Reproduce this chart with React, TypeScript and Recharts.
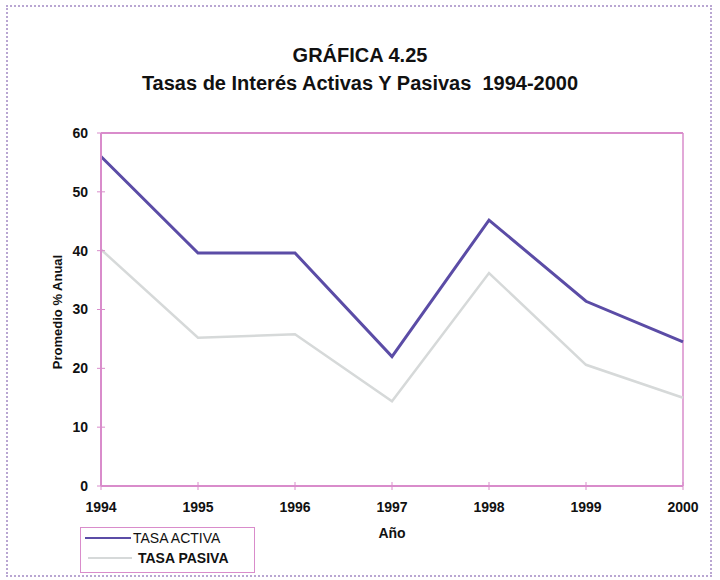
import React from 'react';
import { LineChart, Line, XAxis, YAxis, ReferenceLine, Legend } from 'recharts';

const years = ['1994', '1995', '1996', '1997', '1998', '1999', '2000'];
const tasaActiva = [56, 39.6, 39.6, 22, 45.2, 31.4, 24.5];
const tasaPasiva = [40.2, 25.2, 25.8, 14.4, 36.2, 20.6, 15];
const yTicks = [0, 10, 20, 30, 40, 50, 60];

const data = years.map((y, i) => ({ year: y, activa: tasaActiva[i], pasiva: tasaPasiva[i] }));

const FONT = '"Liberation Sans", Arial, sans-serif';
const PINK = '#d98ccb';
const ACTIVA = '#5b4ca6';
const PASIVA = '#d6d9d9';

const LegendBox = () => (
  <div
    style={{
      width: 175,
      height: 46,
      boxSizing: 'border-box',
      border: `1.5px solid ${PINK}`,
      fontFamily: FONT,
      fontSize: 14,
      color: '#111',
      position: 'relative',
      background: '#fff',
    }}
  >
    <div style={{ position: 'absolute', left: 4, top: 9, width: 46, height: 2, background: ACTIVA }} />
    <div style={{ position: 'absolute', left: 52, top: 1, lineHeight: '18px' }}>TASA ACTIVA</div>
    <div style={{ position: 'absolute', left: 7, top: 29, width: 44, height: 2, background: PASIVA }} />
    <div style={{ position: 'absolute', left: 57, top: 21, lineHeight: '18px', fontWeight: 'bold' }}>TASA PASIVA</div>
  </div>
);

export default function App() {
  return (
    <div style={{ position: 'absolute', left: 0, top: 0, width: 720, height: 580, background: '#fff', overflow: 'hidden' }}>
      <div
        style={{
          position: 'absolute',
          left: 6,
          top: 5,
          width: 706,
          height: 572,
          boxSizing: 'border-box',
          border: '2px dotted #b9a6d2',
        }}
      />
      <div
        style={{
          position: 'absolute',
          left: 0,
          width: 720,
          top: 42,
          textAlign: 'center',
          fontFamily: FONT,
          fontWeight: 'bold',
          fontSize: 20,
          lineHeight: '26px',
          color: '#111',
        }}
      >
        GRÁFICA 4.25
      </div>
      <div
        style={{
          position: 'absolute',
          left: 0,
          width: 720,
          top: 70,
          textAlign: 'center',
          fontFamily: FONT,
          fontWeight: 'bold',
          fontSize: 20,
          lineHeight: '26px',
          color: '#111',
          whiteSpace: 'pre',
        }}
      >
        {'Tasas de Interés Activas Y Pasivas  1994-2000'}
      </div>
      <div
        style={{
          position: 'absolute',
          left: 57,
          top: 312,
          transform: 'translate(-50%, -50%) rotate(-90deg)',
          fontFamily: FONT,
          fontWeight: 'bold',
          fontSize: 13,
          whiteSpace: 'nowrap',
          color: '#111',
        }}
      >
        Promedio % Anual
      </div>
      <div
        style={{
          position: 'absolute',
          left: 392,
          top: 533,
          transform: 'translate(-50%, -50%)',
          fontFamily: FONT,
          fontWeight: 'bold',
          fontSize: 14,
          color: '#111',
        }}
      >
        Año
      </div>
      <div style={{ position: 'absolute', left: 0, top: 0 }}>
        <LineChart width={720} height={580} data={data} margin={{ top: 133, right: 37, bottom: 64, left: 0 }}>
          <XAxis
            dataKey="year"
            height={30}
            stroke={PINK}
            strokeWidth={2}
            tickSize={8}
            tickMargin={8}
            tickLine={{ stroke: PINK, strokeWidth: 1, transform: 'translate(0,-4)' }}
            tick={{ fill: '#111', fontFamily: FONT, fontSize: 14, fontWeight: 'bold' }}
            interval={0}
          />
          <YAxis
            width={101}
            domain={[0, 60]}
            ticks={yTicks}
            stroke={PINK}
            strokeWidth={2}
            tickSize={8}
            tickMargin={5}
            tickLine={{ stroke: PINK, strokeWidth: 1, transform: 'translate(4,0)' }}
            tick={{ fill: '#111', fontFamily: FONT, fontSize: 14, fontWeight: 'bold' }}
            allowDataOverflow
          />
          <ReferenceLine y={60} stroke={PINK} strokeWidth={2} />
          <ReferenceLine x="2000" stroke={PINK} strokeWidth={1.5} />
          <Line
            type="linear"
            dataKey="pasiva"
            name="TASA PASIVA"
            stroke={PASIVA}
            strokeWidth={2.5}
            dot={false}
            isAnimationActive={false}
          />
          <Line
            type="linear"
            dataKey="activa"
            name="TASA ACTIVA"
            stroke={ACTIVA}
            strokeWidth={3}
            dot={false}
            isAnimationActive={false}
          />
          <Legend
            layout="vertical"
            align="center"
            verticalAlign="middle"
            content={() => <LegendBox />}
            wrapperStyle={{ left: 80, top: 527, width: 175, height: 46 }}
          />
        </LineChart>
      </div>
    </div>
  );
}
